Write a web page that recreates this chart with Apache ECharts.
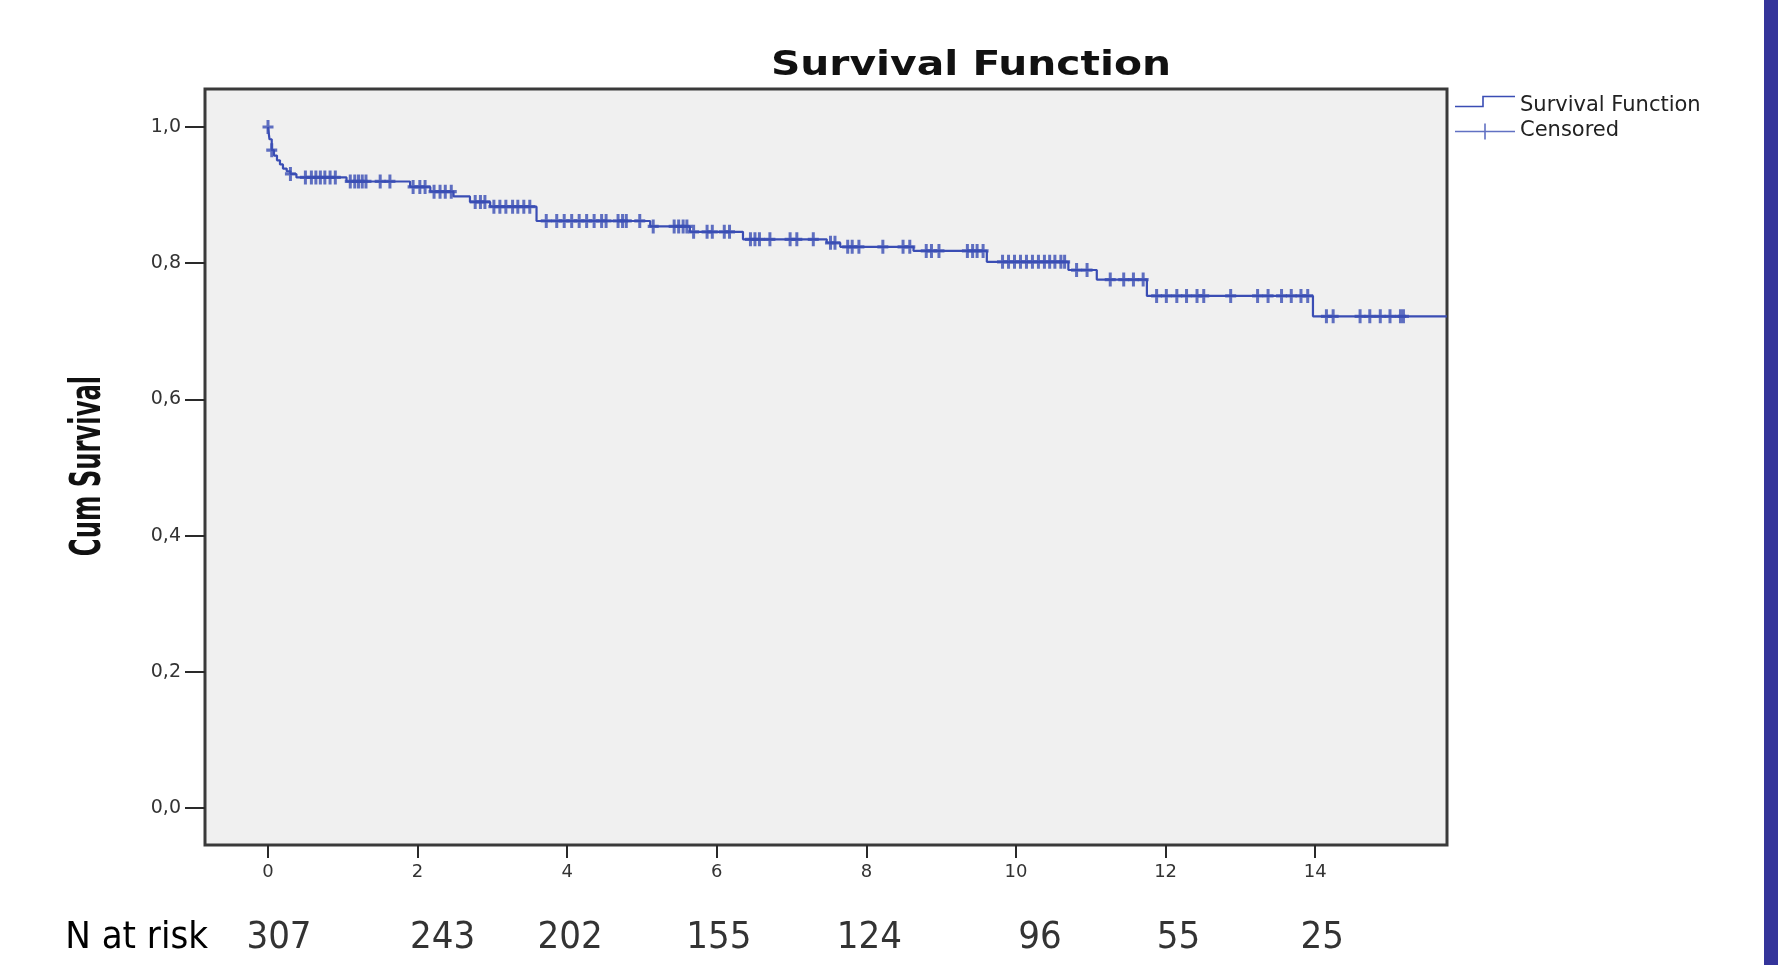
<!DOCTYPE html>
<html>
<head>
<meta charset="utf-8">
<script src="https://cdn.jsdelivr.net/npm/echarts@6/dist/echarts.min.js"></script>
<style>
html,body{margin:0;padding:0;background:#ffffff;}
#chart{width:1792px;height:965px;}
</style>
</head>
<body>
<div id="chart"></div>
<script>
// ---------------- DATA ----------------
const eventTimes    = [0, 0.02, 0.05, 0.08, 0.12, 0.16, 0.2, 0.25, 0.3, 0.38, 1.05, 1.9, 2.17, 2.48, 2.7, 2.97, 3.59, 5.11, 5.64, 6.35, 7.47, 7.65, 8.63, 9.61, 10.7, 11.08, 11.75, 13.97];
const eventSurvival = [1.0, 0.982, 0.966, 0.958, 0.951, 0.945, 0.939, 0.935, 0.931, 0.926, 0.920, 0.912, 0.905, 0.898, 0.890, 0.883, 0.862, 0.854, 0.846, 0.835, 0.830, 0.824, 0.818, 0.802, 0.790, 0.776, 0.752, 0.722];
const followUpEnd = 15.76;
const censoredTimes = [
  0.0, 0.05, 0.3,
  0.5, 0.58, 0.64, 0.7, 0.76, 0.83, 0.9,
  1.1, 1.16, 1.21, 1.26, 1.31, 1.5, 1.63,
  1.94, 2.03, 2.1, 2.22, 2.3, 2.37, 2.45,
  2.77, 2.84, 2.9, 3.02, 3.1, 3.18, 3.27, 3.34, 3.42, 3.5,
  3.72, 3.86, 3.96, 4.06, 4.16, 4.26, 4.36, 4.46, 4.52, 4.68, 4.74, 4.79, 4.97,
  5.15, 5.43, 5.49, 5.55, 5.6, 5.69, 5.87, 5.94, 6.1, 6.17, 6.45, 6.51, 6.57, 6.71,
  6.98, 7.07, 7.29, 7.52, 7.58, 7.75, 7.81, 7.9, 8.22, 8.49, 8.58, 8.8, 8.87, 8.97,
  9.35, 9.42, 9.48, 9.56, 9.82, 9.9, 9.98, 10.06, 10.14, 10.22, 10.3, 10.38, 10.45,
  10.52, 10.6, 10.65, 10.81, 10.95, 11.26, 11.44, 11.57, 11.7,
  11.88, 12.01, 12.15, 12.28, 12.42, 12.51, 12.87, 13.23, 13.37, 13.55, 13.68, 13.81, 13.9,
  14.15, 14.24, 14.6, 14.73, 14.87, 15.0, 15.14, 15.18
];
const riskTimes  = [0, 2, 4, 6, 8, 10, 12, 14];
const riskCounts = [307, 243, 202, 155, 124, 96, 55, 25];
const riskRowLabel = 'N at risk';
const titleText = 'Survival Function';
const yAxisTitle = 'Cum Survival';
const seriesNames = ['Survival Function', 'Censored'];

// ---------------- LAYOUT / STYLE ----------------
const X0 = 268, XU = 74.8;          // pixel of t=0, px per unit
const Y1 = 127, Y0 = 808;           // pixel of S=1, S=0
const FL = 205, FR = 1447, FT = 89, FB = 845; // frame
const riskLabelOffsetPx = [11, 25, 3, 2, 3, 24, 13, 7];
const lineColor = '#3a4db4';
const narrowFont = '"Liberation Sans Narrow", "DejaVu Sans Condensed", "Roboto Condensed", sans-serif';

function survAt(t) {
  let s = eventSurvival[0];
  for (let i = 0; i < eventTimes.length; i++) {
    if (eventTimes[i] <= t) s = eventSurvival[i];
  }
  return s;
}

const kmData = eventTimes.map((t, i) => [t, eventSurvival[i]]);
kmData.push([followUpEnd, eventSurvival[eventSurvival.length - 1]]);
const censData = censoredTimes.map(t => [t, survAt(t)]);
const riskData = riskTimes.map((t, i) => ({
  value: [t, riskRowLabel, riskCounts[i]],
  label: { offset: [riskLabelOffsetPx[i], 0] }
}));

const plusSymbol = 'path://M4,0h3v5h4v3h-4v5h-3v-5h-4v-3h4z';
const stepIcon = 'path://M0,0M60,20M0,10.2L27.2,10.2L27.2,0.2L60,0.2L60,1.8L28.8,1.8L28.8,11.8L0,11.8Z';
const plusIcon = 'path://M0,0M60,20M0,10.2H29.2V3H30.8V10.2H60V11.8H30.8V19H29.2V11.8H0Z';

const chart = echarts.init(document.getElementById('chart'), null, { renderer: 'canvas' });

const hiddenX = gi => ({ gridIndex: gi, type: 'value', min: 0, max: 1, show: false });
const hiddenY = gi => ({ gridIndex: gi, type: 'value', min: 0, max: 1, show: false });

const option = {
  backgroundColor: '#ffffff',
  animation: false,
  grid: [
    { left: FL, top: FT, width: FR - FL, height: FB - FT, show: true,
      backgroundColor: '#f0f0f0', borderColor: '#3a3a3a', borderWidth: 3 },
    { left: X0, top: FT, width: 14 * XU, height: FB - FT, show: false },
    { left: FL, top: Y1, width: FR - FL, height: Y0 - Y1, show: false },
    { left: X0, top: 915, width: 14 * XU, height: 46, show: false }
  ],
  xAxis: [
    { gridIndex: 0, type: 'value', min: (FL - X0) / XU, max: (FR - X0) / XU, show: false },
    { gridIndex: 1, type: 'value', min: 0, max: 14, interval: 2, position: 'bottom',
      axisLine: { show: false },
      axisTick: { show: true, length: 13, lineStyle: { color: '#2a2a2a', width: 2 } },
      axisLabel: { margin: 18, fontSize: 18, color: '#333', fontFamily: 'DejaVu Sans' },
      splitLine: { show: false } },
    hiddenX(2),
    { gridIndex: 3, type: 'value', min: 0, max: 14, show: false }
  ],
  yAxis: [
    { gridIndex: 0, type: 'value', min: (Y0 - FB) / (Y0 - Y1), max: (Y0 - FT) / (Y0 - Y1), show: false },
    hiddenY(1),
    { gridIndex: 2, type: 'value', min: 0, max: 1, interval: 0.2, position: 'left',
      axisLine: { show: false },
      axisTick: { show: true, length: 20, lineStyle: { color: '#2a2a2a', width: 2 } },
      axisLabel: { margin: 24, fontSize: 19, color: '#333', fontFamily: 'DejaVu Sans',
        formatter: v => v.toFixed(1).replace('.', ',') },
      splitLine: { show: false } },
    { gridIndex: 3, type: 'category', data: [riskRowLabel],
      axisLine: { show: false }, axisTick: { show: false }, splitLine: { show: false },
      axisLabel: { margin: X0 - 208, fontSize: 38, color: '#000', fontFamily: narrowFont } }
  ],
  legend: {
    orient: 'vertical', left: 1450, top: 90,
    itemWidth: 60, itemHeight: 20, itemGap: 4,
    selectedMode: false,
    textStyle: { fontSize: 21, color: '#222', fontFamily: 'DejaVu Sans' },
    data: [
      { name: seriesNames[0], icon: stepIcon },
      { name: seriesNames[1], icon: plusIcon }
    ]
  },
  series: [
    { name: seriesNames[0], type: 'line', xAxisIndex: 0, yAxisIndex: 0,
      step: 'end', symbol: 'none', data: kmData,
      lineStyle: { color: lineColor, width: 2.2 }, itemStyle: { color: lineColor }, z: 3 },
    { name: seriesNames[1], type: 'scatter', xAxisIndex: 0, yAxisIndex: 0,
      symbol: plusSymbol, symbolSize: [11, 14], data: censData,
      itemStyle: { color: lineColor }, z: 4 },
    { name: 'risk', type: 'scatter', xAxisIndex: 3, yAxisIndex: 3,
      symbolSize: 1, itemStyle: { color: 'transparent' },
      data: riskData,
      label: { show: true, position: 'inside', formatter: p => String(p.value[2]),
        fontSize: 38, color: '#000', fontFamily: narrowFont } }
  ],
  graphic: {
    elements: [
      { type: 'text', x: 971, y: 66, scaleX: 1.2,
        style: { text: titleText, x: 0, y: 0, textAlign: 'center', textVerticalAlign: 'middle', verticalAlign: 'middle',
          font: 'bold 34px "DejaVu Sans"', fill: '#111' } },
      { type: 'text', x: 89, y: 466, rotation: Math.PI / 2, scaleY: 1.6,
        style: { text: yAxisTitle, x: 0, y: 0, textAlign: 'center', textVerticalAlign: 'middle', verticalAlign: 'middle',
          font: 'bold 27px ' + narrowFont, fill: '#111' } },
      { type: 'rect', shape: { x: 1764, y: 0, width: 14, height: 965 },
        style: { fill: '#34349a' }, z: 100 }
    ]
  }
};
chart.setOption(option);
</script>
</body>
</html>
